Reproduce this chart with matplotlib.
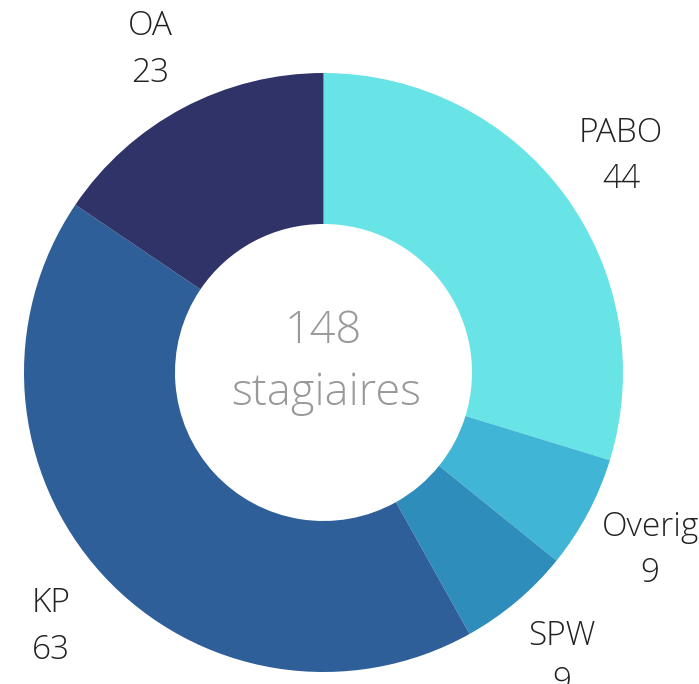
import matplotlib
matplotlib.use("Agg")
import matplotlib.pyplot as plt
import numpy as np

categories = ["PABO", "Overig", "SPW", "KP", "OA"]
values = [44, 9, 9, 63, 23]
colors = ["#68E3E6", "#40B5D5", "#2E8DBB", "#2E5F98", "#2F3368"]
total_label = "148"
center_label = "stagiaires"

W, H = 699, 684
fig = plt.figure(figsize=(W / 100, H / 100), dpi=100)
ax = fig.add_axes([0, 0, 1, 1])

cx, cy, R = 323.5, H - 372.5, 299.5
wedges, _ = ax.pie(values, colors=colors, startangle=90, counterclock=False,
                   center=(cx, cy), radius=R,
                   wedgeprops=dict(width=R - 148.5, linewidth=0))
font = dict(family="Open Sans", fontweight="light")
for w, c, v in zip(wedges, categories, values):
    ang = np.deg2rad((w.theta1 + w.theta2) / 2)
    lx = cx + 1.235 * R * np.cos(ang)
    ly = cy + 1.235 * R * np.sin(ang) - 4
    ax.text(lx, ly, f"{c}\n{v}", ha="center", va="center", fontsize=24,
            color="#222222", linespacing=1.5, clip_on=False, **font)

ax.text(cx, H - 343, total_label, ha="center", va="baseline", fontsize=32.5,
        color="#999999", **font)
ax.text(cx + 3, H - 405, center_label, ha="center", va="baseline", fontsize=32.5,
        color="#999999", **font)

ax.set_xlim(0, W)
ax.set_ylim(0, H)
ax.set_aspect("equal")
ax.axis("off")
fig.savefig("out.png", dpi=100)
